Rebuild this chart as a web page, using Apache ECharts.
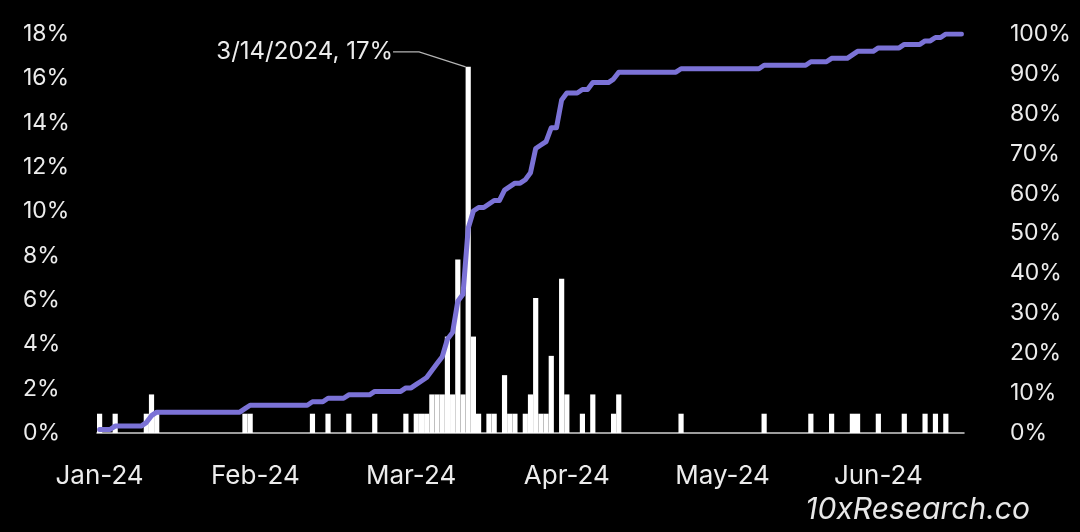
<!DOCTYPE html>
<html>
<head>
<meta charset="utf-8">
<script src="https://cdn.jsdelivr.net/npm/echarts/dist/echarts.min.js"></script>
<style>
html,body{margin:0;padding:0;background:#000;}
#c{width:1080px;height:532px;}
</style>
</head>
<body>
<div id="c"></div>
<script>
// ---- data ----
const axisStart = '2024-01-03';
const axisEnd = '2024-06-17';

const eventDates = [
  '2024-01-03','2024-01-06','2024-01-12','2024-01-13','2024-01-14',
  '2024-01-31','2024-02-01','2024-02-13','2024-02-16','2024-02-20','2024-02-25',
  '2024-03-02','2024-03-04','2024-03-05','2024-03-06','2024-03-07','2024-03-08','2024-03-09',
  '2024-03-10','2024-03-11','2024-03-12','2024-03-13','2024-03-14','2024-03-15','2024-03-16',
  '2024-03-18','2024-03-19','2024-03-21','2024-03-22','2024-03-23','2024-03-25','2024-03-26',
  '2024-03-27','2024-03-28','2024-03-29','2024-03-30','2024-04-01','2024-04-02','2024-04-05',
  '2024-04-07','2024-04-11','2024-04-12','2024-04-24','2024-05-10','2024-05-19','2024-05-23',
  '2024-05-27','2024-05-28','2024-06-01','2024-06-06','2024-06-10','2024-06-12','2024-06-14'
];

// daily share (%), left axis
const dailyPct = [
  0.87, 0.87, 0.87, 1.74, 0.87,
  0.87, 0.87, 0.87, 0.87, 0.87, 0.87,
  0.87, 0.87, 0.87, 0.87, 1.74, 1.74, 1.74,
  4.35, 1.74, 7.83, 1.74, 16.52, 4.35, 0.87,
  0.87, 0.87, 2.61, 0.87, 0.87, 0.87, 1.74,
  6.09, 0.87, 0.87, 3.48, 6.96, 1.74, 0.87,
  1.74, 0.87, 1.74, 0.87, 0.87, 0.87, 0.87,
  0.87, 0.87, 0.87, 0.87, 0.87, 0.87, 0.87
];

// cumulative share (%), right axis
const cumulativePct = [
  0.87, 1.74, 2.61, 4.35, 5.22,
  6.09, 6.96, 7.83, 8.70, 9.57, 10.43,
  11.30, 12.17, 13.04, 13.91, 15.65, 17.39, 19.13,
  23.48, 25.22, 33.04, 34.78, 51.30, 55.65, 56.52,
  57.39, 58.26, 60.87, 61.74, 62.61, 63.48, 65.22,
  71.30, 72.17, 73.04, 76.52, 83.48, 85.22, 86.09,
  87.83, 88.70, 90.43, 91.30, 92.17, 93.04, 93.91,
  94.78, 95.65, 96.52, 97.39, 98.26, 99.13, 100.00
];

const monthNames = ['Jan','Feb','Mar','Apr','May','Jun','Jul','Aug','Sep','Oct','Nov','Dec'];
const annotationDate = '2024-03-14';
const annotationText = '3/14/2024, 17%';
const watermark = '10xResearch.co';

// ---- build daily table ----
function ymd(d){ return d.toISOString().slice(0,10); }
const days = [];
for (let d = new Date(axisStart + 'T00:00:00Z'); ymd(d) <= axisEnd; d.setUTCDate(d.getUTCDate()+1)) {
  days.push(ymd(d));
}
const FONT = 'Inter';
const TXT = '#ececec';

const barData = [];
const lineData = [];
let running = 0;
days.forEach(function(day){
  const k = eventDates.indexOf(day);
  let v = 0;
  if (k >= 0) { v = dailyPct[k]; running = cumulativePct[k]; }
  if (day === annotationDate) {
    barData.push({
      value: v,
      label: {show: true, position: 'top', formatter: annotationText, color: TXT,
              fontFamily: FONT, fontSize: 24, padding: [0, 9, 0, 0]},
      labelLine: {show: true, length2: 26, lineStyle: {color: '#b4b4b4', width: 1.2}}
    });
  } else {
    barData.push(v);
  }
  lineData.push(running);
});

const chart = echarts.init(document.getElementById('c'), null, {renderer: 'canvas'});
chart.setOption({
  backgroundColor: '#000',
  animation: false,
  grid: {left: 97, right: 116, top: 34, bottom: 99},
  xAxis: {
    type: 'category',
    data: days,
    boundaryGap: true,
    axisTick: {show: false},
    axisLine: {lineStyle: {color: '#d0d0d0', width: 1.5}},
    axisLabel: {
      interval: 29,
      margin: 30,
      color: TXT, fontFamily: FONT, fontSize: 26,
      formatter: function(v){ const m = parseInt(v.slice(5,7),10)-1; return monthNames[m] + '-' + v.slice(2,4); }
    }
  },
  yAxis: [
    {
      type: 'value', min: 0, max: 18, interval: 2,
      splitLine: {show: false}, axisLine: {show: false}, axisTick: {show: false},
      axisLabel: {formatter: '{value}%', align: 'left', margin: 74, color: TXT, fontFamily: FONT, fontSize: 23}
    },
    {
      type: 'value', min: 0, max: 100, interval: 10, position: 'right',
      splitLine: {show: false}, axisLine: {show: false}, axisTick: {show: false},
      axisLabel: {formatter: '{value}%', align: 'left', margin: 46, color: TXT, fontFamily: FONT, fontSize: 23}
    }
  ],
  series: [
    {
      type: 'bar',
      data: barData,
      yAxisIndex: 0,
      barCategoryGap: '0%',
      itemStyle: {color: '#ffffff'},
      labelLayout: function(p){ return {dx: -159, dy: 2}; },
      z: 2
    },
    {
      type: 'line',
      data: lineData,
      yAxisIndex: 1,
      showSymbol: false,
      symbol: 'none',
      lineStyle: {color: '#7b72d6', width: 5, cap: 'round', join: 'round'},
      z: 3
    }
  ],
  graphic: [
    {type: 'text', right: 50, top: 495,
     style: {text: watermark, fill: '#e8e8e8', font: 'italic 30px Inter'}}
  ]
});
</script>
</body>
</html>
